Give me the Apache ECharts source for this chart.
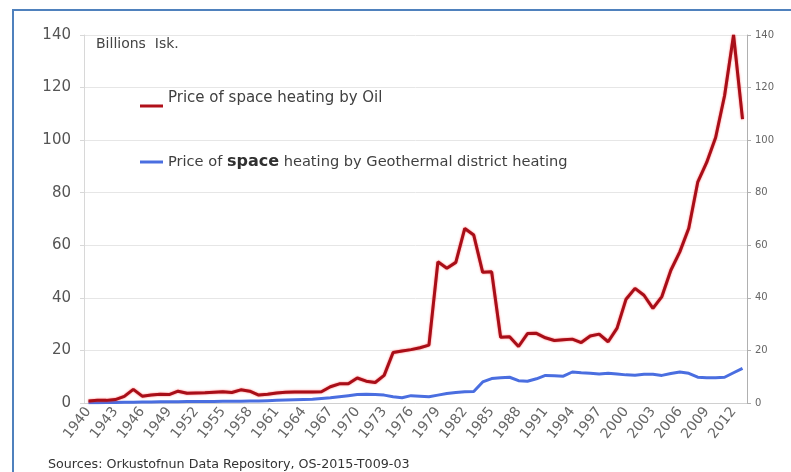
<!DOCTYPE html>
<html>
<head>
<meta charset="utf-8">
<script src="https://cdn.jsdelivr.net/npm/echarts@6/dist/echarts.min.js"></script>
<style>html,body{margin:0;padding:0;background:#fff;}#c{width:791px;height:472px;}</style>
</head>
<body>
<div id="c"></div>
<script>
var years = [];
for (var y = 1940; y <= 2013; y++) years.push(String(y));

var oilName = 'Price of space heating by Oil';
var geoName = 'Price of space heating by Geothermal district heating';

var oil = [0.8, 1.0, 1.0, 1.3, 2.5, 5.2, 2.6, 3.0, 3.3, 3.2,
  4.5, 3.7, 3.8, 3.9, 4.1, 4.3, 4.0, 5.0, 4.5, 3.0,
  3.3, 3.8, 4.1, 4.2, 4.2, 4.2, 4.3, 6.2, 7.3, 7.3,
  9.5, 8.3, 7.8, 10.5, 19.2, 19.8, 20.3, 21.0, 22.0, 53.7,
  51.3, 53.5, 66.4, 63.9, 49.7, 49.9, 25.0, 25.2, 21.5, 26.4,
  26.5, 24.8, 23.8, 24.1, 24.3, 23.0, 25.5, 26.2, 23.3, 28.5,
  39.5, 43.6, 41.0, 36.0, 40.5, 50.5, 57.5, 66.5, 84.0, 91.5,
  101.0, 117.0, 140.0, 108.0];

var geo = [0.1, 0.1, 0.2, 0.2, 0.3, 0.3, 0.4, 0.4, 0.5, 0.5,
  0.5, 0.6, 0.6, 0.6, 0.6, 0.7, 0.7, 0.7, 0.8, 0.8,
  0.9, 1.0, 1.1, 1.2, 1.3, 1.4, 1.7, 2.0, 2.4, 2.8,
  3.2, 3.3, 3.2, 3.0, 2.4, 2.0, 2.8, 2.6, 2.4, 3.0,
  3.6, 4.0, 4.3, 4.4, 8.0, 9.3, 9.6, 9.8, 8.5, 8.3,
  9.2, 10.5, 10.4, 10.2, 11.8, 11.5, 11.3, 11.0, 11.3, 11.0,
  10.7, 10.6, 10.9, 10.9, 10.5, 11.2, 11.8, 11.3, 9.8, 9.6,
  9.6, 9.8, 11.5, 13.2];

var FF = 'DejaVu Sans, Verdana, sans-serif';
var chart = echarts.init(document.getElementById('c'));
chart.setOption({
  backgroundColor: '#ffffff',
  animation: false,
  textStyle: { fontFamily: FF },
  grid: { left: 84, right: 44, top: 35, bottom: 69, containLabel: false },
  legend: [
    {
      data: [oilName], left: 140, top: 88, orient: 'vertical', padding: 0,
      icon: 'path://M0,0L0.05,0L0,0.05Z M0,16.5L23,16.5L23,19.5L0,19.5Z',
      itemWidth: 23, itemHeight: 19.5, itemGap: 0,
      textStyle: { fontSize: 15, color: '#404040', fontFamily: FF }
    },
    {
      data: [geoName], left: 140, top: 154, orient: 'vertical', padding: 0,
      icon: 'rect', itemWidth: 23, itemHeight: 3, itemGap: 0,
      formatter: function () { return '{a|Price of }{b|space}{a| heating by Geothermal district heating}'; },
      textStyle: {
        fontSize: 14.6, color: '#404040', fontFamily: FF,
        rich: {
          a: { fontSize: 14.6, color: '#404040', fontFamily: FF },
          b: { fontSize: 16, color: '#303030', fontWeight: 'bold', fontFamily: FF }
        }
      }
    }
  ],
  graphic: [
    { type: 'rect', shape: { x: 13, y: 10, width: 800, height: 500 }, style: { fill: 'none', stroke: '#4f81bd', lineWidth: 2 }, silent: true },
    { type: 'text', left: 96, top: 37, style: { text: 'Billions  Isk.', fontSize: 14, fill: '#444', fontFamily: FF } },
    { type: 'text', left: 48, top: 458, style: { text: 'Sources: Orkustofnun Data Repository, OS-2015-T009-03', fontSize: 12.7, fill: '#333', fontFamily: FF } }
  ],
  xAxis: {
    type: 'category', data: years, boundaryGap: true,
    axisLine: { show: true, lineStyle: { color: '#d0d0d0' } },
    axisTick: { show: false },
    axisLabel: { interval: 2, rotate: 52, color: '#666', fontSize: 14, margin: 6, fontFamily: FF },
    splitLine: { show: false }
  },
  yAxis: [
    {
      type: 'value', min: 0, max: 140, interval: 20, position: 'left',
      axisLine: { show: true, lineStyle: { color: '#d8d8d8' } },
      axisTick: { show: true, length: 4, lineStyle: { color: '#d8d8d8' } },
      axisLabel: { color: '#555', fontSize: 15, margin: 13, fontFamily: FF },
      splitLine: { show: true, lineStyle: { color: '#e6e6e6' } }
    },
    {
      type: 'value', min: 0, max: 140, interval: 20, position: 'right',
      axisLine: { show: true, lineStyle: { color: '#b0b0b0' } },
      axisTick: { show: true, length: 4, lineStyle: { color: '#b0b0b0' } },
      axisLabel: { color: '#666', fontSize: 10, margin: 8, fontFamily: FF },
      splitLine: { show: false }
    }
  ],
  series: [
    {
      name: oilName, type: 'line', data: oil, symbol: 'none', yAxisIndex: 0,
      itemStyle: { color: '#b0101a' },
      lineStyle: { color: '#a80e18', width: 3, shadowColor: 'rgba(255,40,40,0.7)', shadowBlur: 2 },
      z: 3
    },
    {
      name: geoName, type: 'line', data: geo, symbol: 'none', yAxisIndex: 0,
      itemStyle: { color: '#4a6ee0' },
      lineStyle: { color: '#4a6ee0', width: 3 },
      z: 2
    }
  ]
});
</script>
</body>
</html>
